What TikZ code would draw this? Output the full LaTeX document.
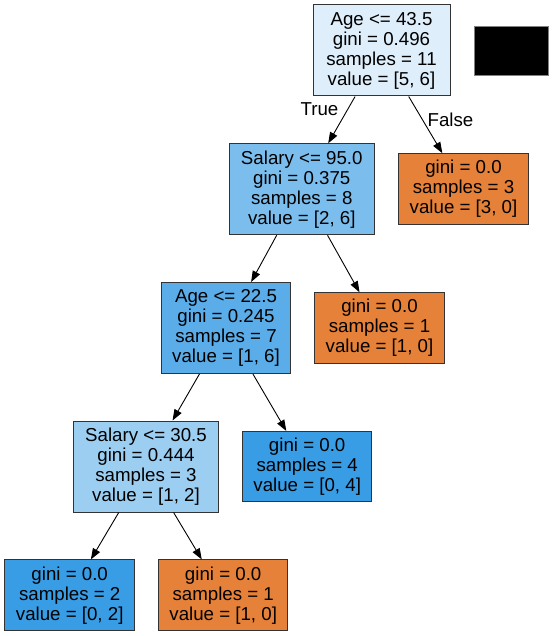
\documentclass[tikz,border=0pt]{standalone}
\usepackage{fontspec}
\setmainfont{Liberation Sans}
\usetikzlibrary{arrows.meta}
\definecolor{rootc}{HTML}{DEEFFB}
\definecolor{s95c}{HTML}{7BBEEE}
\definecolor{a22c}{HTML}{5AADE9}
\definecolor{s30c}{HTML}{9CCEF2}
\definecolor{bluec}{HTML}{399DE5}
\definecolor{orangec}{HTML}{E58139}
\definecolor{edgec}{HTML}{333333}
\tikzset{
  tbox/.style={draw=edgec, line width=1pt, inner sep=0pt, align=center,
    font=\fontsize{18.7}{20}\selectfont},
  big/.style={tbox, minimum height=91pt},
  leaf/.style={tbox, minimum height=70.5pt, minimum width=129.5pt},
  edge/.style={draw=black, line width=0.9pt, -{Triangle[length=11pt,width=8pt]}},
  elabel/.style={font=\fontsize{18.7}{20}\selectfont}
}
\begin{document}
\begin{tikzpicture}[x=1pt,y=-1pt]
\useasboundingbox (0,0) rectangle (553,636);
\node[big, fill=rootc, minimum width=137pt] (root) at (381.5,50.5)
  {Age <= 43.5\\gini = 0.496\\samples = 11\\value = [5, 6]};
\node[draw=gray, fill=black, minimum width=73.5pt, minimum height=49.5pt, inner sep=0pt] (blk) at (511.3,50.7) {};
\node[big, fill=s95c, minimum width=145pt] (s95) at (301.8,189.3)
  {Salary <= 95.0\\gini = 0.375\\samples = 8\\value = [2, 6]};
\node[leaf, fill=orangec] (f1) at (463.5,189)
  {gini = 0.0\\samples = 3\\value = [3, 0]};
\node[big, fill=a22c, minimum width=129.5pt] (a22) at (226,328)
  {Age <= 22.5\\gini = 0.245\\samples = 7\\value = [1, 6]};
\node[leaf, fill=orangec] (f2) at (379.5,328)
  {gini = 0.0\\samples = 1\\value = [1, 0]};
\node[big, fill=s30c, minimum width=144.5pt] (s30) at (146,466.5)
  {Salary <= 30.5\\gini = 0.444\\samples = 3\\value = [1, 2]};
\node[leaf, fill=bluec] (b4) at (307.2,466.7)
  {gini = 0.0\\samples = 4\\value = [0, 4]};
\node[leaf, fill=bluec] (b2) at (69.7,595.2)
  {gini = 0.0\\samples = 2\\value = [0, 2]};
\node[leaf, fill=orangec] (o1) at (223.2,595.2)
  {gini = 0.0\\samples = 1\\value = [1, 0]};
\draw[edge] (root) -- (s95);
\draw[edge] (root) -- (f1);
\draw[edge] (s95) -- (a22);
\draw[edge] (s95) -- (f2);
\draw[edge] (a22) -- (s30);
\draw[edge] (a22) -- (b4);
\draw[edge] (s30) -- (b2);
\draw[edge] (s30) -- (o1);
\node[elabel] (tl) at (319.5,109.5) {True};
\node[elabel] (fl) at (450.5,120) {False};
\end{tikzpicture}
\end{document}
